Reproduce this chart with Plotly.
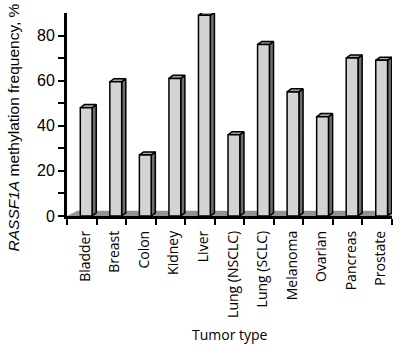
import plotly.graph_objects as go

categories = ["Bladder", "Breast", "Colon", "Kidney", "Liver", "Lung (NSCLC)",
              "Lung (SCLC)", "Melanoma", "Ovarian", "Pancreas", "Prostate"]
values = [48, 59.5, 27, 61, 89, 36, 76, 55, 44, 70, 69]
y_ticks = [0, 10, 20, 30, 40, 50, 60, 70, 80]
y_ticktext = ["0", "", "20", "", "40", "", "60", "", "80"]

# pseudo-3D geometry (data units)
SHIFT = 0.15      # front face offset from category centre
HALF = 0.2        # half width of front face
DX, DY = 0.14, 1.4  # depth offset of bars
FDX, FDY = 0.35, 2.3  # depth offset of floor

FRONT = "#d3d3d3"
SIDE = "#6e6e6e"
TOP = "#a3a3a3"
FLOOR = "#939393"

n = len(categories)
fig = go.Figure()

# floor
x0, x1 = -0.5, n - 0.5
fig.add_trace(go.Scatter(
    x=[x0, x1, x1 + FDX, x0 + FDX, x0], y=[0, 0, FDY, FDY, 0],
    mode="lines", fill="toself", fillcolor=FLOOR, line=dict(width=0),
    hoverinfo="skip", showlegend=False, cliponaxis=False))

sx, sy, tx, ty, fx, fy = [], [], [], [], [], []
for i, v in enumerate(values):
    l = i + SHIFT - HALF
    r = i + SHIFT + HALF
    sx += [r, r + DX, r + DX, r, r, None]
    sy += [0, DY, v + DY, v, 0, None]
    tx += [l, r, r + DX, l + DX, l, None]
    ty += [v, v, v + DY, v + DY, v, None]
    fx += [l, r, r, l, l, None]
    fy += [0, 0, v, v, 0, None]

for xs, ys, col in [(sx, sy, SIDE), (tx, ty, TOP), (fx, fy, FRONT)]:
    fig.add_trace(go.Scatter(
        x=xs, y=ys, mode="lines", fill="toself", fillcolor=col,
        line=dict(color="black", width=1.5), hoverinfo="skip",
        showlegend=False, cliponaxis=False))

# invisible trace to carry the category-label axis
fig.add_trace(go.Scatter(x=[x0, x1], y=[0, 0], xaxis="x2", mode="markers",
                         marker=dict(opacity=0), hoverinfo="skip", showlegend=False))

fig.update_layout(
    width=408, height=346,
    margin=dict(l=67, r=16, t=13, b=130),
    paper_bgcolor="white", plot_bgcolor="white",
    showlegend=False,
    xaxis=dict(
        range=[x0, x1], showgrid=False, zeroline=False, automargin=False,
        showline=True, linecolor="black", linewidth=3,
        tickvals=[i - 0.5 for i in range(n + 1)], showticklabels=False,
        ticks="outside", ticklen=6, tickwidth=2, tickcolor="black",
    ),
    xaxis2=dict(
        range=[x0, x1], overlaying="x", side="bottom", anchor="y", automargin=False,
        showgrid=False, zeroline=False, showline=False,
        tickvals=[i + 0.12 for i in range(n)], ticktext=categories,
        ticks="", tickangle=-90, ticklabelstandoff=11,
        tickfont=dict(family="Open Sans", size=14, color="black"),
    ),
    yaxis=dict(
        range=[0, 90], showgrid=False, zeroline=False, automargin=False,
        showline=True, linecolor="black", linewidth=3,
        tickvals=y_ticks, ticktext=y_ticktext,
        ticks="outside", ticklen=6, tickwidth=2, tickcolor="black",
        tickfont=dict(family="Liberation Sans", size=16, color="black"),
    ),
    annotations=[
        dict(text="<i>RASSF1A</i> methylation frequency, %",
             xref="paper", yref="paper", x=-0.165, y=0.438,
             xanchor="center", yanchor="middle", textangle=-90, showarrow=False,
             font=dict(family="Liberation Sans", size=15.5, color="black")),
        dict(text="Tumor type", xref="paper", yref="paper", x=0.5, y=-0.586,
             xanchor="center", yanchor="middle", showarrow=False,
             font=dict(family="Open Sans", size=14, color="black")),
    ],
)

fig.write_html("out.html")
